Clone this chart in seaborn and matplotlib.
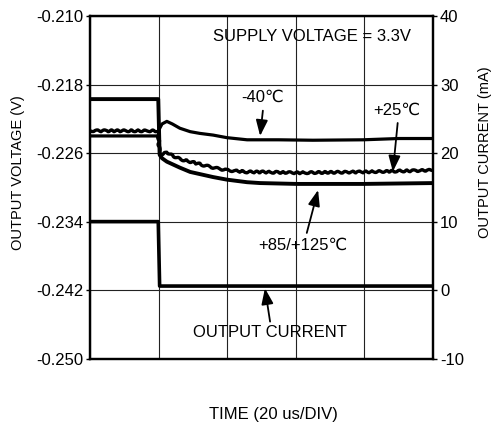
import matplotlib
matplotlib.use("Agg")
import matplotlib.pyplot as plt
import seaborn as sns
import numpy as np

# time in us (20 us/div), voltage in V, current in mA
t_m40 = [0, 19.9, 20.2, 21.0, 22.4, 24.0, 26.2, 29.2, 32.0, 35.9, 39.9, 45.8, 55.0, 65.0, 79.6, 90.0, 100]
v_m40 = [-0.2240, -0.2240, -0.2232, -0.2226, -0.2223, -0.2226, -0.2231, -0.2235, -0.2237, -0.2239,
         -0.2242, -0.22445, -0.22445, -0.2245, -0.22445, -0.2243, -0.2243]

t_p25 = [0, 19.9, 20.2, 21.0, 22.4, 24.0, 26.2, 29.2, 35.9, 39.9, 45.8, 49.6, 60.3, 79.6, 100]
v_p25 = [-0.2234, -0.2234, -0.2258, -0.2262, -0.2259, -0.2263, -0.2267, -0.2270, -0.2277, -0.2280,
         -0.2282, -0.2282, -0.2283, -0.2282, -0.2280]

t_p85 = [0, 19.9, 20.3, 21.0, 22.4, 26.2, 29.2, 35.9, 39.9, 45.8, 49.6, 60.3, 79.6, 100]
v_p85 = [-0.2197, -0.2197, -0.2262, -0.2266, -0.2270, -0.2277, -0.2282, -0.2288, -0.2291, -0.2294,
         -0.2295, -0.2296, -0.2296, -0.2295]

t_cur = [0, 19.9, 20.3, 100]
i_cur = [10.0, 10.0, 0.6, 0.6]

v_ticks = [-0.250, -0.242, -0.234, -0.226, -0.218, -0.210]
i_ticks = [-10, 0, 10, 20, 30, 40]
t_grid = [0, 20, 40, 60, 80, 100]

sns.set_style("white")
plt.rcParams['font.family'] = ['Liberation Sans', 'DejaVu Sans']
plt.rcParams['axes.unicode_minus'] = False
plt.rcParams['text.color'] = 'black'
plt.rcParams['xtick.color'] = 'black'
plt.rcParams['ytick.color'] = 'black'
plt.rcParams['axes.labelcolor'] = 'black'

fig = plt.figure(figsize=(4.95, 4.26), dpi=100)
ax = fig.add_axes([90 / 495, 1 - 358.7 / 426, 343 / 495, 342.7 / 426])

ax.set_xlim(0, 100)
ax.set_ylim(-0.250, -0.210)
ax.set_xticks(t_grid)
ax.set_yticks(v_ticks)
ax.set_yticklabels([f"{v:.3f}" for v in v_ticks])
ax.set_xticklabels([])
ax.grid(True, color='#222222', lw=0.8)
ax.tick_params(axis='x', length=0)
ax.tick_params(axis='y', length=3, width=1, color='black', labelcolor='black', labelsize=12, pad=2,
               direction='out', left=True)
for s in ax.spines.values():
    s.set_color('black')
    s.set_linewidth(1.6)
    s.set_zorder(5)

sns.lineplot(x=t_m40, y=v_m40, ax=ax, color='black', lw=2.3, estimator=None, sort=False)
sns.lineplot(x=t_p85, y=v_p85, ax=ax, color='black', lw=2.8, estimator=None, sort=False)
l25 = sns.lineplot(x=t_p25, y=v_p25, ax=ax, color='black', lw=2.4, estimator=None, sort=False).lines[-1]
l25.set_sketch_params(scale=0.9, length=8, randomness=2)

ax2 = ax.twinx()
ax2.set_ylim(-10, 40)
ax2.set_yticks(i_ticks)
ax2.tick_params(axis='y', length=3, width=1, color='black', labelcolor='black', labelsize=12, pad=2,
                direction='out', right=True)
ax2.grid(False)
for s in ax2.spines.values():
    s.set_color('black')
    s.set_linewidth(1.6)
sns.lineplot(x=t_cur, y=i_cur, ax=ax2, color='black', lw=2.6, estimator=None, sort=False)
ax2.set_ylabel('')

arrow = dict(arrowstyle='-|>,head_length=0.8,head_width=0.3', color='black', lw=1.3,
             mutation_scale=12, shrinkA=0, shrinkB=0)

ax.text(64.7, -0.21245, 'SUPPLY VOLTAGE = 3.3V', fontsize=12, ha='center', va='center')
ax.text(50.4, -0.21945, '-40℃', fontsize=12, ha='center', va='center')
ax.annotate('', xy=(49.6, -0.2240), xytext=(50.4, -0.22105), arrowprops=arrow)
ax.text(89.5, -0.22097, '+25℃', fontsize=12, ha='center', va='center')
ax.annotate('', xy=(88.3, -0.22817), xytext=(89.7, -0.22249), arrowprops=arrow)
ax.text(62.1, -0.23681, '+85/+125℃', fontsize=12, ha='center', va='center')
ax.annotate('', xy=(66.5, -0.23031), xytext=(63.2, -0.23532), arrowprops=arrow)
ax.text(52.5, -0.24696, 'OUTPUT CURRENT', fontsize=12, ha='center', va='center')
ax.annotate('', xy=(51.0, -0.24178), xytext=(52.5, -0.24567), arrowprops=arrow)

fig.text(18 / 495, 1 - 173 / 426, 'OUTPUT VOLTAGE (V)', rotation=90, fontsize=10.5,
         ha='center', va='center')
fig.text(485 / 495, 1 - 152 / 426, 'OUTPUT CURRENT (mA)', rotation=90, fontsize=10.5,
         ha='center', va='center')
fig.text(273 / 495, 1 - 415 / 426, 'TIME (20 us/DIV)', fontsize=12, ha='center', va='center')

fig.savefig('out.png', dpi=100)
